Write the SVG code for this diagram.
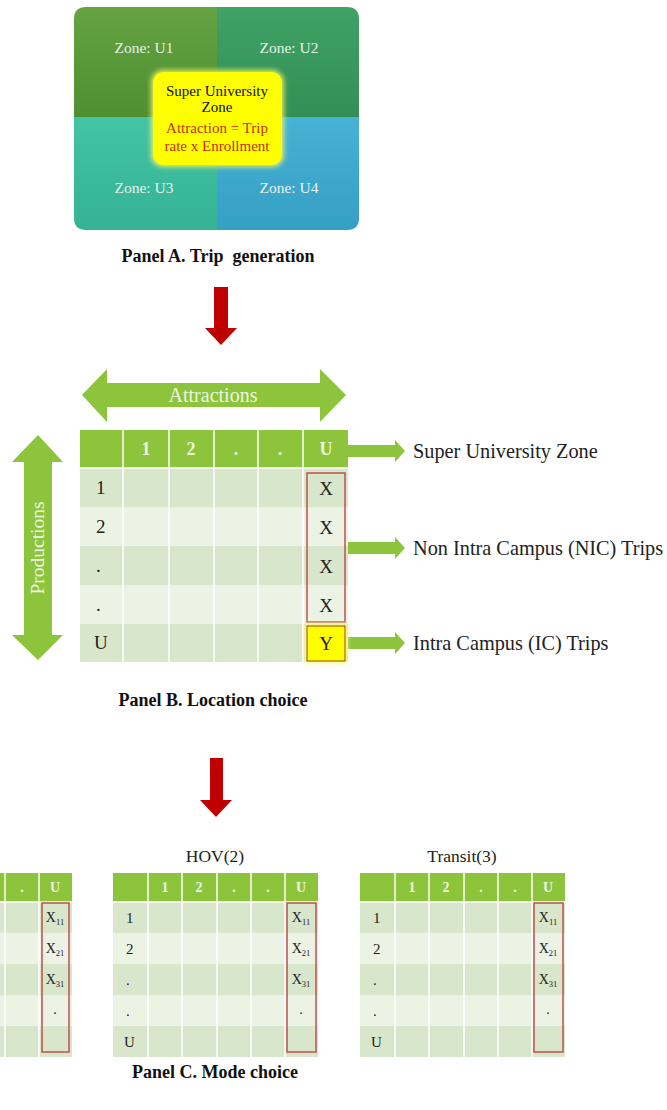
<svg xmlns="http://www.w3.org/2000/svg" width="667" height="1110" viewBox="0 0 667 1110">
<style>
.serif{font-family:"Liberation Serif","Times New Roman",serif;}
.cap{font-family:"Liberation Serif",serif;font-weight:bold;font-size:18px;fill:#111;}
.zone{font-family:"Liberation Serif",serif;font-size:15.5px;fill:#e6f2e6;text-anchor:middle;}
.hdr{fill:#8cc43c;}
.rd{fill:#d8e7cb;}
.rl{fill:#ecf3e5;}
.grid{stroke:#ffffff;stroke-width:1.5;}
.hbig{font-family:"Liberation Serif",serif;font-weight:bold;font-size:18px;fill:#eef7e2;text-anchor:middle;}
.hsm{font-family:"Liberation Serif",serif;font-weight:bold;font-size:14px;fill:#eef7e2;text-anchor:middle;}
.cbig{font-family:"Liberation Serif",serif;font-size:19px;fill:#222;}
.csm{font-family:"Liberation Serif",serif;font-size:15px;fill:#222;}
.xs{font-family:"Liberation Serif",serif;font-size:14px;fill:#222;text-anchor:middle;}
.redbox{fill:none;stroke:#c0504d;stroke-width:1.5;}
.garrow{fill:#8cc43c;}
.rarrow{fill:#c00000;}
.lbl{font-family:"Liberation Serif",serif;font-size:20.3px;fill:#222;}
.ttl{font-family:"Liberation Serif",serif;font-size:17.5px;fill:#222;text-anchor:middle;}
</style>
<defs>
<linearGradient id="gU1" x1="0" y1="0" x2="0" y2="1"><stop offset="0" stop-color="#65a343"/><stop offset="1" stop-color="#4f8f31"/></linearGradient>
<linearGradient id="gU2" x1="0" y1="0" x2="0" y2="1"><stop offset="0" stop-color="#3fa266"/><stop offset="1" stop-color="#338f55"/></linearGradient>
<linearGradient id="gU3" x1="0" y1="0" x2="0" y2="1"><stop offset="0" stop-color="#43c4a5"/><stop offset="1" stop-color="#35b394"/></linearGradient>
<linearGradient id="gU4" x1="0" y1="0" x2="0" y2="1"><stop offset="0" stop-color="#46b2d4"/><stop offset="1" stop-color="#369fc4"/></linearGradient>
<filter id="glow" x="-20%" y="-20%" width="140%" height="140%"><feGaussianBlur stdDeviation="2.5"/></filter>
</defs>
<rect width="667" height="1110" fill="#ffffff"/>

<!-- Panel A -->
<g id="panelA">
  <path d="M74,19 Q74,7 86,7 H217 V117 H74 Z" fill="url(#gU1)"/>
  <path d="M217,7 H347 Q359,7 359,19 V117 H217 Z" fill="url(#gU2)"/>
  <path d="M74,117 H217 V230 H86 Q74,230 74,218 Z" fill="url(#gU3)"/>
  <path d="M217,117 H359 V218 Q359,230 347,230 H217 Z" fill="url(#gU4)"/>
  <text class="zone" x="144" y="53">Zone: U1</text>
  <text class="zone" x="289" y="53">Zone: U2</text>
  <text class="zone" x="144" y="193">Zone: U3</text>
  <text class="zone" x="289" y="193">Zone: U4</text>
  <g id="superZone">
    <rect x="151" y="70" width="133" height="97" rx="12" fill="#ffff66" filter="url(#glow)" opacity="0.8"/>
    <rect x="153" y="72" width="129" height="93" rx="11" fill="#ffff00"/>
    <text class="serif" font-size="15" fill="#111" text-anchor="middle" x="217" y="96">Super University</text>
    <text class="serif" font-size="15" fill="#111" text-anchor="middle" x="217" y="112">Zone</text>
    <text class="serif" font-size="15" fill="#c0300a" text-anchor="middle" x="217" y="133">Attraction = Trip</text>
    <text class="serif" font-size="15" fill="#c0300a" text-anchor="middle" x="217" y="151">rate x Enrollment</text>
  </g>
  <text class="cap" x="218" y="262" text-anchor="middle" xml:space="preserve" font-size="17.5">Panel A. Trip  generation</text>
</g>

<!-- connectors -->
<g id="connectors">
  <polygon class="rarrow" points="214,287 228,287 228,328 237,328 221,345 205,328 214,328"/>
  <polygon class="rarrow" points="210,758 223,758 223,800 232,800 216,817 200,800 210,800"/>
  <polygon class="garrow" points="82,395 107,369 107,383 320,383 320,369 346,395 320,422 320,407 107,407 107,422"/>
  <polygon class="garrow" points="38,435 63,462 52,462 52,635 63,635 38,660 12,635 24,635 24,462 12,462"/>
  <polygon class="garrow" points="348,445 395,445 395,440 405,451 395,462 395,457 348,457"/>
  <polygon class="garrow" points="348,542 395,542 395,537 405,548 395,559 395,554 348,554"/>
  <polygon class="garrow" points="348,637 395,637 395,632 405,643 395,654 395,649 348,649"/>
</g>

<g id="arrowLabels">
  <text class="serif" font-size="20" fill="#eef7e2" text-anchor="middle" x="213" y="402">Attractions</text>
  <text class="serif" font-size="19.5" fill="#eef7e2" text-anchor="middle" transform="translate(44,548) rotate(-90)">Productions</text>
</g>

<!-- Panel B -->
<g id="panelB">
  <rect class="hdr" x="80" y="430" width="268" height="38"/>
  <rect class="rd" x="80" y="468" width="268" height="39"/>
  <rect class="rl" x="80" y="507" width="268" height="39"/>
  <rect class="rd" x="80" y="546" width="268" height="39"/>
  <rect class="rl" x="80" y="585" width="268" height="39"/>
  <rect class="rd" x="80" y="624" width="268" height="38"/>
  <g class="grid">
    <line x1="123" y1="430" x2="123" y2="662"/>
    <line x1="169" y1="430" x2="169" y2="662"/>
    <line x1="214" y1="430" x2="214" y2="662"/>
    <line x1="258" y1="430" x2="258" y2="662"/>
    <line x1="303" y1="430" x2="303" y2="662"/>
    <line x1="80" y1="468" x2="348" y2="468"/>
  </g>
  <text class="hbig" x="146" y="455">1</text>
  <text class="hbig" x="191" y="455">2</text>
  <text class="hbig" x="236" y="455">.</text>
  <text class="hbig" x="280" y="455">.</text>
  <text class="hbig" x="326" y="455">U</text>
  <text class="cbig" x="96" y="494">1</text>
  <text class="cbig" x="96" y="533">2</text>
  <text class="cbig" x="96" y="572">.</text>
  <text class="cbig" x="96" y="611">.</text>
  <text class="cbig" x="94" y="649">U</text>
  <text class="cbig" text-anchor="middle" x="326" y="495">X</text>
  <text class="cbig" text-anchor="middle" x="326" y="534">X</text>
  <text class="cbig" text-anchor="middle" x="326" y="573">X</text>
  <text class="cbig" text-anchor="middle" x="326" y="612">X</text>
  <rect class="redbox" x="307" y="473" width="38" height="149"/>
  <rect x="305" y="624" width="42" height="39" fill="#ffff80" filter="url(#glow)"/>
  <rect x="307" y="626" width="38" height="35" fill="#ffff00" stroke="#a0401a" stroke-width="1"/>
  <text class="cbig" text-anchor="middle" x="326" y="650">Y</text>
  <text class="cap" x="213" y="706" text-anchor="middle">Panel B. Location choice</text>
</g>

<g id="labels">
  <text class="lbl" x="413" y="458">Super University Zone</text>
  <text class="lbl" x="413" y="555">Non Intra Campus (NIC) Trips</text>
  <text class="lbl" x="413" y="650">Intra Campus (IC) Trips</text>
</g>

<!-- Panel C: left (cropped) table -->
<g id="tableLeft">
  <rect class="hdr" x="0" y="873" width="72" height="29"/>
  <rect class="rd" x="0" y="902" width="72" height="31"/>
  <rect class="rl" x="0" y="933" width="72" height="31"/>
  <rect class="rd" x="0" y="964" width="72" height="31"/>
  <rect class="rl" x="0" y="995" width="72" height="31"/>
  <rect class="rd" x="0" y="1026" width="72" height="31"/>
  <g class="grid">
    <line x1="5" y1="873" x2="5" y2="1057"/>
    <line x1="39" y1="873" x2="39" y2="1057"/>
    <line x1="0" y1="902" x2="72" y2="902"/>
  </g>
  <text class="hsm" x="22" y="892">.</text>
  <text class="hsm" x="55" y="892">U</text>
  <text class="xs" x="55" y="922">X<tspan font-size="8.5" dy="3">11</tspan></text>
  <text class="xs" x="55" y="953">X<tspan font-size="8.5" dy="3">21</tspan></text>
  <text class="xs" x="55" y="984">X<tspan font-size="8.5" dy="3">31</tspan></text>
  <text class="xs" x="55" y="1014">.</text>
  <rect class="redbox" x="42" y="903" width="27" height="149"/>
</g>

<!-- Panel C: HOV table -->
<g id="tableHOV">
  <text class="ttl" x="215" y="862">HOV(2)</text>
  <rect class="hdr" x="113" y="873" width="205" height="29"/>
  <rect class="rd" x="113" y="902" width="205" height="31"/>
  <rect class="rl" x="113" y="933" width="205" height="31"/>
  <rect class="rd" x="113" y="964" width="205" height="31"/>
  <rect class="rl" x="113" y="995" width="205" height="31"/>
  <rect class="rd" x="113" y="1026" width="205" height="31"/>
  <g class="grid">
    <line x1="148" y1="873" x2="148" y2="1057"/>
    <line x1="182" y1="873" x2="182" y2="1057"/>
    <line x1="217" y1="873" x2="217" y2="1057"/>
    <line x1="251" y1="873" x2="251" y2="1057"/>
    <line x1="285" y1="873" x2="285" y2="1057"/>
    <line x1="113" y1="902" x2="318" y2="902"/>
  </g>
  <text class="hsm" x="165" y="892">1</text>
  <text class="hsm" x="199" y="892">2</text>
  <text class="hsm" x="234" y="892">.</text>
  <text class="hsm" x="268" y="892">.</text>
  <text class="hsm" x="301" y="892">U</text>
  <text class="csm" x="126" y="923">1</text>
  <text class="csm" x="126" y="954">2</text>
  <text class="csm" x="126" y="985">.</text>
  <text class="csm" x="126" y="1016">.</text>
  <text class="csm" x="124" y="1047">U</text>
  <text class="xs" x="301" y="922">X<tspan font-size="8.5" dy="3">11</tspan></text>
  <text class="xs" x="301" y="953">X<tspan font-size="8.5" dy="3">21</tspan></text>
  <text class="xs" x="301" y="984">X<tspan font-size="8.5" dy="3">31</tspan></text>
  <text class="xs" x="301" y="1014">.</text>
  <rect class="redbox" x="287" y="903" width="29" height="149"/>
</g>

<!-- Panel C: Transit table -->
<g id="tableTransit">
  <text class="ttl" x="462" y="862">Transit(3)</text>
  <rect class="hdr" x="360" y="873" width="205" height="29"/>
  <rect class="rd" x="360" y="902" width="205" height="31"/>
  <rect class="rl" x="360" y="933" width="205" height="31"/>
  <rect class="rd" x="360" y="964" width="205" height="31"/>
  <rect class="rl" x="360" y="995" width="205" height="31"/>
  <rect class="rd" x="360" y="1026" width="205" height="31"/>
  <g class="grid">
    <line x1="395" y1="873" x2="395" y2="1057"/>
    <line x1="429" y1="873" x2="429" y2="1057"/>
    <line x1="464" y1="873" x2="464" y2="1057"/>
    <line x1="498" y1="873" x2="498" y2="1057"/>
    <line x1="532" y1="873" x2="532" y2="1057"/>
    <line x1="360" y1="902" x2="565" y2="902"/>
  </g>
  <text class="hsm" x="412" y="892">1</text>
  <text class="hsm" x="446" y="892">2</text>
  <text class="hsm" x="481" y="892">.</text>
  <text class="hsm" x="515" y="892">.</text>
  <text class="hsm" x="548" y="892">U</text>
  <text class="csm" x="373" y="923">1</text>
  <text class="csm" x="373" y="954">2</text>
  <text class="csm" x="373" y="985">.</text>
  <text class="csm" x="373" y="1016">.</text>
  <text class="csm" x="371" y="1047">U</text>
  <text class="xs" x="548" y="922">X<tspan font-size="8.5" dy="3">11</tspan></text>
  <text class="xs" x="548" y="953">X<tspan font-size="8.5" dy="3">21</tspan></text>
  <text class="xs" x="548" y="984">X<tspan font-size="8.5" dy="3">31</tspan></text>
  <text class="xs" x="548" y="1014">.</text>
  <rect class="redbox" x="534" y="903" width="29" height="149"/>
</g>

<text class="cap" x="215" y="1078" text-anchor="middle">Panel C. Mode choice</text>
</svg>
